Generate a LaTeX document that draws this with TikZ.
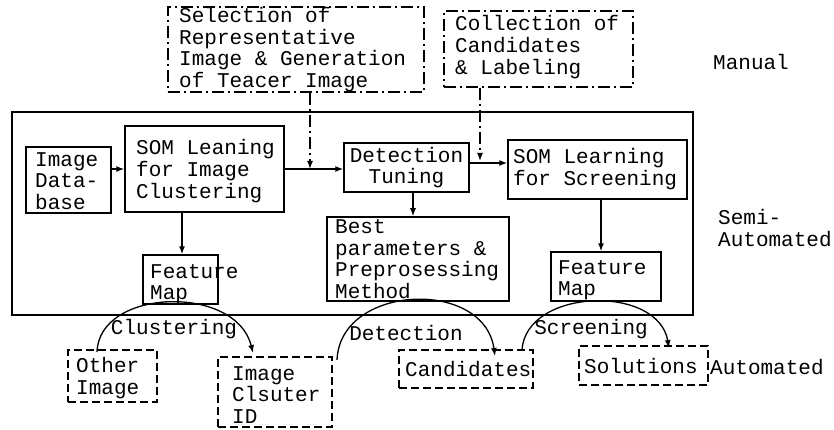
\documentclass[tikz,border=0pt]{standalone}
\usepackage{fontspec}
\setmonofont{Liberation Mono}
\usetikzlibrary{arrows.meta}
\begin{document}
\begin{tikzpicture}[x=1pt,y=-1pt,
  txt/.style={inner sep=0pt, align=left, font=\ttfamily\fontsize{21}{21.6}\selectfont},
  solidbox/.style={draw, line width=1.5pt, inner sep=0pt},
  dashbox/.style={draw, line width=1.5pt, inner sep=0pt, dash pattern=on 8pt off 4pt},
  dotbox/.style={draw, line width=1.5pt, inner sep=0pt, dash pattern=on 12pt off 4pt on 2pt off 4pt},
  arr/.style={line width=1.3pt, -{Latex[length=8pt,width=6pt]}},
  ddarr/.style={arr, dash pattern=on 12pt off 4pt on 2pt off 4pt},
  arc/.style={line width=1.3pt, -{Latex[length=8pt,width=6pt]}}]
\useasboundingbox (0,0) rectangle (834,430);

% semi-automated frame
\node[solidbox, minimum width=681pt, minimum height=203pt] (frame) at (352.5,213.5) {};

% manual steps
\node[dotbox, minimum width=256pt, minimum height=85pt] (sel) at (296,49.5) {};
\node[txt, anchor=west] (selt) at (179,49.5) {Selection of\\Representative\\Image \& Generation\\of Teacer Image};
\node[dotbox, minimum width=189pt, minimum height=76pt] (col) at (538.5,49) {};
\node[txt, anchor=west] (colt) at (455,47) {Collection of\\Candidates\\\& Labeling};

% semi-automated steps
\node[solidbox, minimum width=85pt, minimum height=66pt] (db) at (68.5,180) {};
\node[txt, anchor=west] (dbt) at (35,181) {Image\\Data-\\base};
\node[solidbox, minimum width=159pt, minimum height=86pt] (somc) at (204.5,169) {};
\node[txt, anchor=west] (somct) at (136,171) {SOM Leaning\\for Image\\Clustering};
\node[solidbox, minimum width=125pt, minimum height=49pt] (det) at (406.5,167.5) {};
\node[txt, align=center] (dett) at (406.5,167.5) {Detection\\Tuning};
\node[solidbox, minimum width=179pt, minimum height=59pt] (soms) at (597.5,169.5) {};
\node[txt, anchor=west] (somst) at (513,169) {SOM Learning\\for Screening};
\node[solidbox, minimum width=182pt, minimum height=84pt] (best) at (418,259) {};
\node[txt, anchor=west] (bestt) at (335,259) {Best\\parameters \&\\Preprosessing\\Method};
\node[solidbox, minimum width=75pt, minimum height=49pt] (fma) at (180.5,279.5) {};
\node[txt, anchor=west] (fmat) at (150,284) {Feature\\Map};
\node[solidbox, minimum width=110pt, minimum height=49pt] (fmb) at (606,276.5) {};
\node[txt, anchor=west] (fmbt) at (558,280) {Feature\\Map};

% automated results
\node[dashbox, minimum width=89pt, minimum height=52pt] (oth) at (112.5,376) {};
\node[txt, anchor=west] (otht) at (76,378) {Other\\Image};
\node[dashbox, minimum width=114pt, minimum height=70pt] (cid) at (275,392) {};
\node[txt, anchor=west] (cidt) at (232,395) {Image\\Clsuter\\ID};
\node[dashbox, minimum width=134pt, minimum height=38pt] (cand) at (466,369) {};
\node[txt, anchor=west] (candt) at (405,369) {Candidates};
\node[dashbox, minimum width=129pt, minimum height=39pt] (sol) at (643.5,365.5) {};
\node[txt, anchor=west] (solt) at (584,366) {Solutions};

% level labels
\node[txt, anchor=west] (lman) at (713,62) {Manual};
\node[txt, anchor=west] (lsemi) at (718,228) {Semi-\\Automated};
\node[txt, anchor=west] (lauto) at (710,367) {Automated};

% flow inside the frame
\draw[arr] (db.east |- somc.east) -- (somc.west);
\draw[arr] (somc.east) -- (somc.east -| det.west);
\draw[arr] ([yshift=4.5pt]det.east) -- ([yshift=4.5pt]det.east -| soms.west);
\draw[arr] ([xshift=6.5pt]det.south) -- ([xshift=6.5pt]det.south |- best.north);
\draw[arr] ([xshift=1.5pt]fma.north |- somc.south) -- ([xshift=1.5pt]fma.north);
\draw[arr] ([xshift=3.5pt]soms.south) -- ([xshift=3.5pt]soms.south |- fmb.north);

% manual inputs
\coordinate (selin) at (310,169);
\draw[ddarr] (selin |- sel.south) -- (selin);
\coordinate (colin) at (480,161);
\draw[ddarr] (colin |- col.south) -- (colin);

% automated arcs
\coordinate (ca) at (97,352);
\coordinate (cb) at (253,353);
\draw[arc] (ca) .. controls (99,288) and (236,284) .. (cb);
\node[txt] (lclu) at (174,329) {Clustering};

\coordinate (da) at (337,360);
\coordinate (db2) at (495,356);
\draw[arc] (da) .. controls (340,284) and (484,278) .. (db2);
\node[txt] (ldet) at (406,333) {Detection};

\coordinate (sa) at (522,350);
\coordinate (sb) at (669,348);
\draw[arc] (sa) .. controls (526,288) and (658,284) .. (sb);
\node[txt] (lscr) at (591,329) {Screening};
\end{tikzpicture}
\end{document}
